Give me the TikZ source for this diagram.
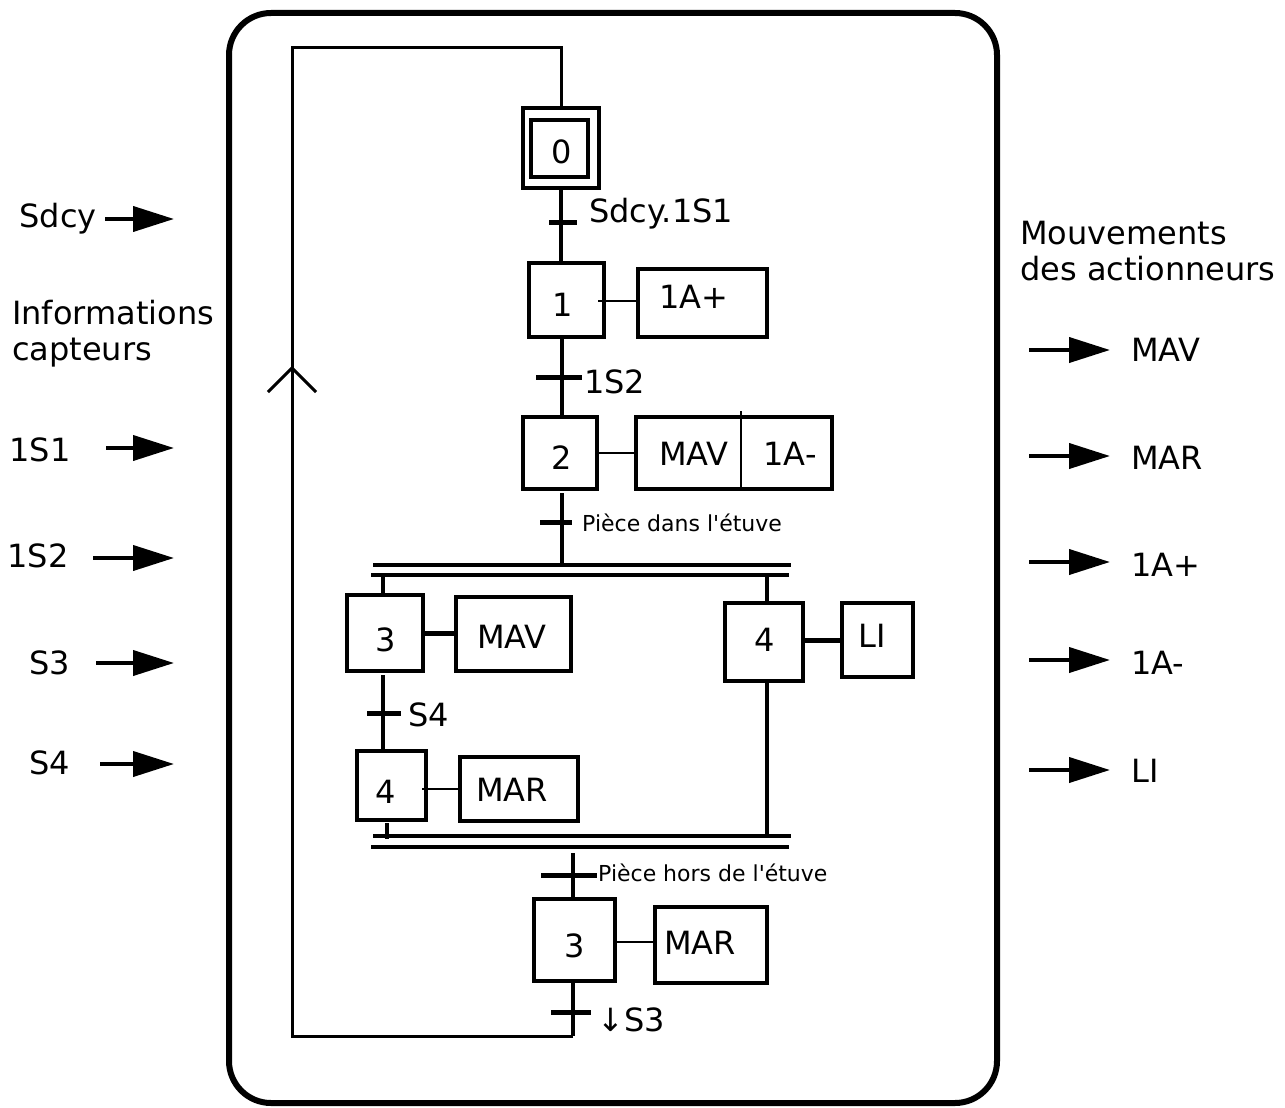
\documentclass[tikz,border=0pt]{standalone}
\usepackage{fontspec}
\setmainfont{DejaVu Sans}[Ligatures=TeXOff]
\usetikzlibrary{arrows.meta}
\tikzset{
  lbl/.style={font=\fontsize{32}{36}\selectfont, inner sep=0pt},
  small/.style={font=\fontsize{22}{26}\selectfont, inner sep=0pt},
  stepbox/.style={draw, line width=4pt, inner sep=0pt},
  actbox/.style={draw, line width=4pt, inner sep=0pt},
  link/.style={line width=4pt},
  loopline/.style={line width=3pt},
  thinlink/.style={line width=2pt},
  thicklink/.style={line width=5pt},
  trans/.style={line width=5pt},
  dbl/.style={line width=3.5pt},
  sig/.style={line width=4pt, -{Triangle[length=41pt,width=25pt]}},
}
\begin{document}
\begin{tikzpicture}[x=1pt,y=-1pt]
\useasboundingbox (0,0) rectangle (1285,1108);
% frame
\draw[line width=6pt, rounded corners=42pt] (229,13) rectangle (997,1103);

% steps
\node[stepbox, minimum width=76pt, minimum height=80pt] (s0) at (561,148) {};
\node[stepbox, minimum width=57pt, minimum height=57pt] (s0i) at (559.5,148.5) {};
\node[lbl] (s0t) at (562,152) {0};
\node[stepbox, minimum width=75pt, minimum height=74pt] (s1) at (566.5,300) {};
\node[lbl] (s1t) at (563,305) {1};
\node[actbox, minimum width=129pt, minimum height=68pt] (a1) at (702.5,303) {};
\node[lbl] (a1t) at (694,297) {1A+};
\node[stepbox, minimum width=74pt, minimum height=72pt] (s2) at (560,453) {};
\node[lbl] (s2t) at (562,458) {2};
\node[actbox, minimum width=196pt, minimum height=72pt] (a2) at (734,453) {};
\node[lbl] (a2m) at (694,454) {MAV};
\node[lbl] (a2a) at (790,454) {1A-};
\coordinate (a2t) at (741,411);
\coordinate (a2b) at (741,491);
\node[stepbox, minimum width=76pt, minimum height=76pt] (s3) at (385,633) {};
\node[lbl] (s3t) at (386,640) {3};
\node[actbox, minimum width=115pt, minimum height=74pt] (a3) at (513.5,634) {};
\node[lbl] (a3t) at (512,637) {MAV};
\node[stepbox, minimum width=69pt, minimum height=69pt] (s4) at (391,785) {};
\node[lbl] (s4t) at (386,792) {4};
\node[actbox, minimum width=118pt, minimum height=64pt] (a4) at (518.5,789) {};
\node[lbl] (a4t) at (512,790) {MAR};
\node[stepbox, minimum width=78pt, minimum height=78pt] (s4r) at (764,641.5) {};
\node[lbl] (s4rt) at (765,640) {4};
\node[actbox, minimum width=71pt, minimum height=74pt] (a4r) at (877.5,640) {};
\node[lbl] (a4rt) at (872,636) {LI};
\node[stepbox, minimum width=81pt, minimum height=82pt] (s3b) at (574.5,939.5) {};
\node[lbl] (s3bt) at (575,946) {3};
\node[actbox, minimum width=112pt, minimum height=76pt] (a3b) at (711,945) {};
\node[lbl] (a3bt) at (700,943) {MAR};

% action links
\draw[thinlink] (a2t) -- (a2b);
\draw[thinlink] (598,301) -- (a1.west |- 0,301);
\draw[thinlink] (s2.east) -- (a2.west);
\draw[thicklink] (s3.east) -- (a3.west |- s3.east);
\draw[thinlink] (422,789) -- (a4.west);
\draw[thicklink] (s4r.east |- a4r.west) -- (a4r.west);
\draw[thinlink] (613,942) -- (a3b.west |- 0,942);

% sequence links
\draw[link] (s0.south) -- (s1.north -| s0.south);
\draw[link] (562,337) -- (562,417);
\draw[link] (562,493) -- (562,563);
\draw[link] (383,575) -- (383,595);
\draw[link] (383,675) -- (383,750);
\draw[link] (387,823) -- (387,839);
\draw[link] (767,575) -- (767,603);
\draw[link] (767,681) -- (767,836);
\draw[link] (573,853) -- (573,899);
\draw[link] (573,981) -- (573,1036);

% double lines
\draw[dbl] (373,565) -- (791,565);
\draw[dbl] (371,575) -- (789,575);
\draw[dbl] (373,836) -- (791,836);
\draw[dbl] (371,847) -- (789,847);

% loop
\draw[loopline] (573,1036) -- (292,1036) -- (292,48) -| (s0.north);
\draw[loopline] (268,392) -- (292,368) -- (316,392);

% transitions
\draw[trans] (549,222) -- (577,222);
\draw[trans] (536,377) -- (582,377);
\draw[trans] (540,522) -- (572,522);
\draw[trans] (367,713) -- (401,713);
\draw[trans] (541,875) -- (597,875);
\draw[trans] (551,1012) -- (591,1012);

% transition labels
\node[lbl, anchor=west] (t0) at (589,214) {Sdcy.1S1};
\node[lbl, anchor=west] (t1) at (584,382) {1S2};
\node[small, anchor=west] (t2) at (582,523) {Pièce dans l'étuve};
\node[lbl, anchor=west] (t3) at (408,715) {S4};
\node[small, anchor=west] (t4) at (598,873) {Pièce hors de l'étuve};
\node[lbl, anchor=west] (t5) at (597,1020) {↓S3};

% left inputs
\node[lbl] (in0) at (58,219) {Sdcy};
\node[lbl, anchor=west, align=left] (info) at (12,334) {Informations\\capteurs};
\node[lbl] (in1) at (40,450) {1S1};
\node[lbl] (in2) at (38,556) {1S2};
\node[lbl] (in3) at (50,663) {S3};
\node[lbl] (in4) at (50,763) {S4};
\draw[sig] (105,219) -- (174,219);
\draw[sig] (106,448) -- (174,448);
\draw[sig] (93,558) -- (174,558);
\draw[sig] (96,663) -- (174,663);
\draw[sig] (100,764) -- (174,764);

% right outputs
\node[lbl, anchor=west, align=left] (mv) at (1020,251) {Mouvements\\des actionneurs};
\node[lbl, anchor=west] (o1) at (1131,350) {MAV};
\node[lbl, anchor=west] (o2) at (1131,458) {MAR};
\node[lbl, anchor=west] (o3) at (1131,565) {1A+};
\node[lbl, anchor=west] (o4) at (1131,663) {1A-};
\node[lbl, anchor=west] (o5) at (1131,771) {LI};
\draw[sig] (1029,350) -- (1110,350);
\draw[sig] (1029,456) -- (1110,456);
\draw[sig] (1029,562) -- (1110,562);
\draw[sig] (1029,660) -- (1110,660);
\draw[sig] (1029,770) -- (1110,770);
\end{tikzpicture}
\end{document}
